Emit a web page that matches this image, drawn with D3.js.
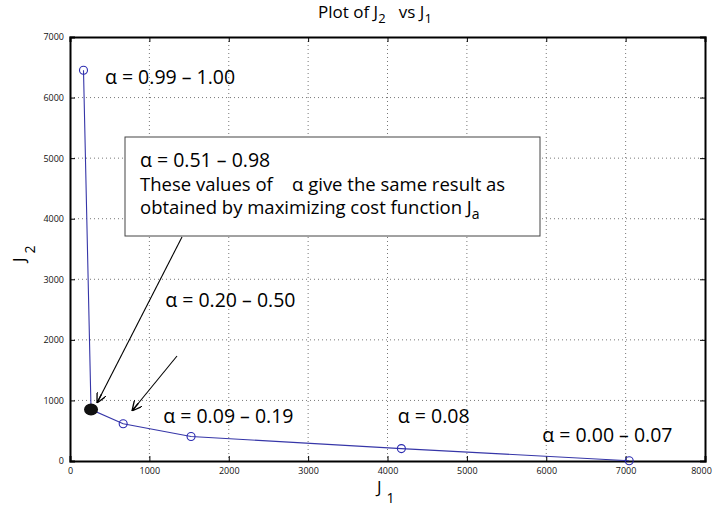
<!DOCTYPE html>
<html>
<head>
<meta charset="utf-8">
<script src="https://cdn.jsdelivr.net/npm/d3@7"></script>
<style>
  body { margin: 0; background: #fff; }
  svg { font-family: "Open Sans", "DejaVu Sans", sans-serif; }
</style>
</head>
<body>
<svg id="chart"></svg>
<script>
// data
const j1 = [170, 265, 670, 1525, 4175, 7045];
const j2 = [6450, 850, 615, 405, 205, 5];
const filled = [false, true, false, false, false, false];
const xTicks = [0, 1000, 2000, 3000, 4000, 5000, 6000, 7000, 8000];
const yTicks = [0, 1000, 2000, 3000, 4000, 5000, 6000, 7000];

// labels: [text, J1, J2] in data coords (anchor = start, baseline)
const labels = [
    ["α = 0.99 – 1.00", 440, 6220],
    ["α = 0.20 – 0.50", 1200, 2540],
    ["α = 0.09 – 0.19", 1175, 625],
    ["α = 0.08", 4130, 630],
    ["α = 0.00 – 0.07", 5950, 310]
];

const config = {
    width: 714,
    height: 508,
    left: 70,
    right: 705,
    top: 37,
    bottom: 461
};

let svg = d3.select('#chart')
    .attr('width', config.width)
    .attr('height', config.height);

let xScale = d3.scaleLinear().domain([0, 8000]).range([config.left, config.right]);
let yScale = d3.scaleLinear().domain([0, 7000]).range([config.bottom, config.top]);

// grid
svg.append('g').selectAll('line')
    .data(xTicks.slice(1, -1))
    .enter().append('line')
    .attr('x1', d => xScale(d)).attr('x2', d => xScale(d))
    .attr('y1', config.top).attr('y2', config.bottom)
    .style('stroke', '#555').style('stroke-width', 0.8)
    .style('stroke-dasharray', '1,3');
svg.append('g').selectAll('line')
    .data(yTicks.slice(1, -1))
    .enter().append('line')
    .attr('y1', d => yScale(d)).attr('y2', d => yScale(d))
    .attr('x1', config.left).attr('x2', config.right)
    .style('stroke', '#555').style('stroke-width', 0.8)
    .style('stroke-dasharray', '1,3');

// axes
let xAxis = d3.axisBottom(xScale).tickValues(xTicks).tickSize(-5).tickPadding(7).tickFormat(d3.format('d'));
let yAxis = d3.axisLeft(yScale).tickValues(yTicks).tickSize(-5).tickPadding(6).tickFormat(d3.format('d'));
let xTop = d3.axisTop(xScale).tickValues(xTicks).tickSize(-5).tickFormat('');
let yRight = d3.axisRight(yScale).tickValues(yTicks).tickSize(-5).tickFormat('');

const styleAxis = g => {
    g.selectAll('path').style('stroke', '#000').style('stroke-width', 2);
    g.selectAll('line').style('stroke', '#000').style('stroke-width', 1);
    g.selectAll('text').style('font-size', '9px').style('fill', '#111')
        .style('font-family', '"Open Sans", sans-serif');
};

let gx = svg.append('g').attr('transform', `translate(0,${config.bottom})`).call(xAxis).call(styleAxis);
gx.selectAll('.tick').filter(d => d === 8000).select('text').attr('dx', -4);
svg.append('g').attr('transform', `translate(${config.left},0)`).call(yAxis).call(styleAxis);
svg.append('g').attr('transform', `translate(0,${config.top})`).call(xTop).call(styleAxis);
svg.append('g').attr('transform', `translate(${config.right},0)`).call(yRight).call(styleAxis);

// line
const pts = j1.map((d, i) => [d, j2[i], filled[i]]);
svg.append('path')
    .datum(pts)
    .attr('d', d3.line().x(d => xScale(d[0])).y(d => yScale(d[1])))
    .style('fill', 'none')
    .style('stroke', '#3636a8')
    .style('stroke-width', 1.1);

svg.selectAll('.pt')
    .data(pts.filter(d => !d[2]))
    .enter().append('circle')
    .attr('cx', d => xScale(d[0]))
    .attr('cy', d => yScale(d[1]))
    .attr('r', 4)
    .style('fill', 'none')
    .style('stroke', '#2a2ab0')
    .style('stroke-width', 1.1);

svg.selectAll('.big')
    .data(pts.filter(d => d[2]))
    .enter().append('ellipse')
    .attr('cx', d => xScale(d[0]))
    .attr('cy', d => yScale(d[1]))
    .attr('rx', 7).attr('ry', 6)
    .style('fill', '#111');

// text labels
svg.append('g').selectAll('text')
    .data(labels)
    .enter().append('text')
    .attr('x', d => xScale(d[1]))
    .attr('y', d => yScale(d[2]))
    .text(d => d[0])
    .style('font-size', '19.5px')
    .style('fill', '#000');

// annotation box
svg.append('rect')
    .attr('x', 125).attr('y', 137)
    .attr('width', 415).attr('height', 99)
    .style('fill', '#fff')
    .style('stroke', '#444')
    .style('stroke-width', 1);

let box = svg.append('g').style('font-size', '18.5px');
box.append('text').attr('x', 140).attr('y', 167).style('font-size', '19.5px').text('α = 0.51 – 0.98');
box.append('text').attr('x', 140).attr('y', 191).attr('xml:space', 'preserve')
    .text('These values of    α give the same result as');
let l3 = box.append('text').attr('x', 140).attr('y', 214);
l3.append('tspan').text('obtained by maximizing cost function J');
l3.append('tspan').attr('dy', 5).style('font-size', '14px').text('a');

// arrows
svg.append('defs').append('marker')
    .attr('id', 'arr')
    .attr('viewBox', '0 0 10 10')
    .attr('refX', 10).attr('refY', 5)
    .attr('markerWidth', 10).attr('markerHeight', 10)
    .attr('markerUnits', 'userSpaceOnUse')
    .attr('orient', 'auto')
    .append('path')
    .attr('d', 'M0,0 L10,5 L0,10 M10,5 L0,5')
    .style('fill', 'none').style('stroke', '#000').style('stroke-width', 1.3);

const arrows = [[182, 237, 97, 403], [177, 356, 132, 411]];
svg.append('g').selectAll('line')
    .data(arrows)
    .enter().append('line')
    .attr('x1', d => d[0]).attr('y1', d => d[1])
    .attr('x2', d => d[2]).attr('y2', d => d[3])
    .style('stroke', '#000').style('stroke-width', 1.1)
    .attr('marker-end', 'url(#arr)');

// title and axis labels
let title = svg.append('text')
    .attr('x', 318).attr('y', 18)
    .style('font-size', '17px');
title.append('tspan').text('Plot of J');
title.append('tspan').attr('dy', 5).style('font-size', '13px').text('2');
title.append('tspan').attr('dy', -5).attr('xml:space', 'preserve').text('   vs J');
title.append('tspan').attr('dy', 5).style('font-size', '13px').text('1');

let xl = svg.append('text').attr('x', 377).attr('y', 493).style('font-size', '17px');
xl.append('tspan').text('J');
xl.append('tspan').attr('dy', 10).attr('dx', 5).style('font-size', '14px').text('1');

let yl = svg.append('text')
    .attr('transform', 'translate(25,262) rotate(-90)')
    .style('font-size', '17px');
yl.append('tspan').text('J');
yl.append('tspan').attr('dy', 10).attr('dx', 4).style('font-size', '14px').text('2');
</script>
</body>
</html>
